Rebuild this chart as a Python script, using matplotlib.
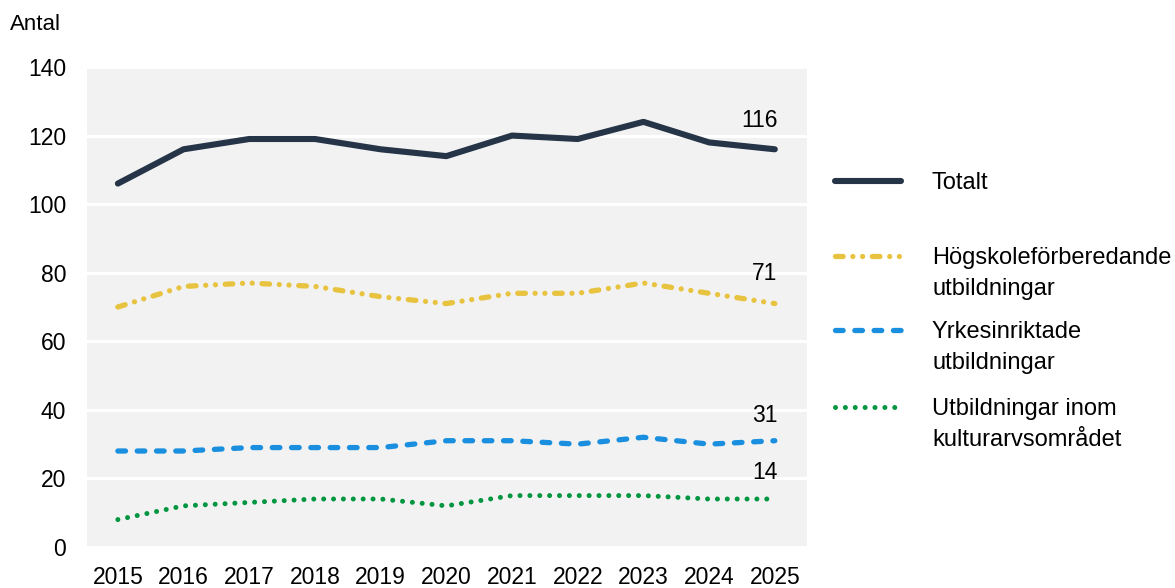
import matplotlib
matplotlib.use('Agg')
import matplotlib.pyplot as plt
from matplotlib.lines import Line2D

plt.rcParams['font.family'] = ['Liberation Sans', 'DejaVu Sans']
plt.rcParams['lines.scale_dashes'] = False

years = [2015, 2016, 2017, 2018, 2019, 2020, 2021, 2022, 2023, 2024, 2025]
totalt = [106, 116, 119, 119, 116, 114, 120, 119, 124, 118, 116]
hogskole = [70, 76, 77, 76, 73, 71, 74, 74, 77, 74, 71]
yrkes = [28, 28, 29, 29, 29, 31, 31, 30, 32, 30, 31]
kultur = [8, 12, 13, 14, 14, 12, 15, 15, 15, 14, 14]

labels = ['Totalt', 'Högskoleförberedande\nutbildningar',
          'Yrkesinriktade\nutbildningar', 'Utbildningar inom\nkulturarvsområdet']
yticks = [0, 20, 40, 60, 80, 100, 120, 140]

series = [totalt, hogskole, yrkes, kultur]
colors = ['#253447', '#e8c340', '#1a8fdf', '#00953f']
widths = [4.4, 3.8, 3.8, 3.6]
dashes = [None, (5.5, 7.0, 0.01, 7.0, 0.01, 7.0), (5.5, 8.4), (0.01, 7.1)]
offsets = [21, 22, 18, 19]

fig = plt.figure(figsize=(11.75, 5.88), dpi=100)
ax = fig.add_axes([87 / 1175, 1 - 547 / 588, 720 / 1175, 480 / 588])
ax.set_facecolor('#f2f2f2')

for vals, c, lw, d, off in zip(series, colors, widths, dashes, offsets):
    line, = ax.plot(years, vals, color=c, lw=lw, solid_capstyle='round',
                    dash_capstyle='round', solid_joinstyle='round')
    if d is not None:
        line.set_dashes(d)
    ax.annotate(str(vals[-1]), (years[-1], vals[-1]), xytext=(2, off),
                textcoords='offset points', ha='right', va='center',
                fontsize=16.5)

ax.set_xlim(2014.53, 2025.49)
ax.set_ylim(0, 140)
ax.set_yticks(yticks)
ax.set_xticks(years)
ax.grid(axis='y', color='white', lw=2.2)
ax.set_axisbelow(True)
for s in ax.spines.values():
    s.set_visible(False)
ax.tick_params(length=0, labelsize=16.5)
ax.tick_params(axis='y', pad=15)
ax.tick_params(axis='x', pad=14)

fig.text(10 / 1175, 1 - 25 / 588, 'Antal', fontsize=16, va='center')

# legend drawn by hand so the line sits at the first text row
leg_y = [181, 256, 330, 407]
for yy, lab, c, lw, d in zip(leg_y, labels, colors, widths, dashes):
    ln = Line2D([835 / 1175, 901 / 1175], [1 - yy / 588] * 2, color=c, lw=lw,
                solid_capstyle='round', dash_capstyle='round',
                transform=fig.transFigure)
    if d is not None:
        ln.set_dashes(d)
    fig.add_artist(ln)
    fig.text(932 / 1175, 1 - (yy - 9) / 588, lab, fontsize=17, va='top',
             linespacing=1.5)

fig.savefig('out.png', dpi=100)
